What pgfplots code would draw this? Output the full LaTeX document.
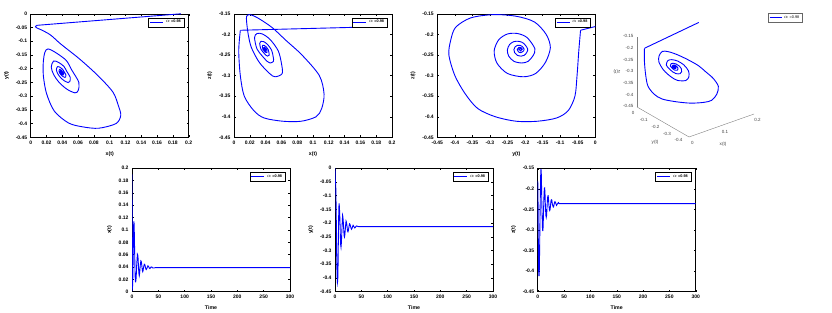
\documentclass[border=0pt]{standalone}
\usepackage{fontspec}
\setmainfont{Liberation Sans}
\usepackage{pgfplots}
\usepackage{pgfplotstable}
\pgfplotsset{compat=1.18}

\pgfplotstableread{
t x y z
0 0.190 0.000 -0.181
0.4 0.008 -0.042 -0.190
0.7 0.006 -0.047 -0.240
1.0 0.008 -0.052 -0.300
1.3 0.013 -0.058 -0.350
1.6 0.025 -0.077 -0.385
1.9 0.038 -0.110 -0.403
2.3 0.062 -0.165 -0.411
2.7 0.085 -0.225 -0.411
3.0 0.104 -0.285 -0.400
3.3 0.111 -0.335 -0.380
3.7 0.114 -0.370 -0.345
4.1 0.108 -0.400 -0.300
4.6 0.086 -0.417 -0.250
5.0 0.066 -0.412 -0.215
5.4 0.048 -0.398 -0.183
5.8 0.030 -0.355 -0.160
6.2 0.020 -0.290 -0.152
6.6 0.016 -0.225 -0.156
7.0 0.016 -0.173 -0.170
7.4 0.018 -0.140 -0.200
7.8 0.022 -0.128 -0.232
8.4 0.032 -0.142 -0.268
9.0 0.045 -0.170 -0.295
9.6 0.052 -0.205 -0.303
10.2 0.061 -0.250 -0.295
10.8 0.060 -0.280 -0.270
11.4 0.056 -0.288 -0.240
12.0 0.046 -0.275 -0.213
12.6 0.036 -0.250 -0.199
13.2 0.029 -0.221 -0.198
13.8 0.026 -0.194 -0.208
14.4 0.029 -0.172 -0.235
15.0 0.0355 -0.1775 -0.252
15.6 0.042 -0.1915 -0.2655
16.2 0.0455 -0.209 -0.2695
16.8 0.050 -0.2315 -0.2655
17.4 0.0495 -0.2465 -0.253
18.0 0.0475 -0.2505 -0.238
18.6 0.0425 -0.244 -0.2245
19.2 0.0375 -0.2315 -0.2175
19.8 0.034 -0.217 -0.217
20.4 0.0325 -0.2035 -0.222
21.0 0.034 -0.1925 -0.2355
21.6 0.0373 -0.1953 -0.2440
22.2 0.0405 -0.2023 -0.2508
22.8 0.0423 -0.2110 -0.2528
23.4 0.0445 -0.2223 -0.2508
24.0 0.0443 -0.2298 -0.2445
24.6 0.0433 -0.2318 -0.2370
25.2 0.0408 -0.2285 -0.2303
25.8 0.0383 -0.2223 -0.2268
26.4 0.0365 -0.2150 -0.2265
27.0 0.0358 -0.2083 -0.2290
27.6 0.0365 -0.2028 -0.2358
28.4 0.0381 -0.2041 -0.2400
29.6 0.0406 -0.2120 -0.2444
30.2 0.0418 -0.2176 -0.2434
31.4 0.0411 -0.2224 -0.2365
32.6 0.0386 -0.2176 -0.2314
33.8 0.0374 -0.2106 -0.2325
34.4 0.0378 -0.2079 -0.2359
35.8 0.0398 -0.2125 -0.2402
37.6 0.0401 -0.2177 -0.2363
39.4 0.0384 -0.2135 -0.2336
40.6 0.0384 -0.2104 -0.2359
45 0.0390 -0.2130 -0.2360
300 0.0390 -0.2130 -0.2360
}\traj

\pgfplotsset{
  mystyle/.style={
    scale only axis, width=158pt, height=123.5pt,
    axis line style={line width=0.5pt},
    tick align=inside, major tick length=2pt,
    every tick/.style={black, line width=0.4pt},
    tick label style={font=\fontsize{5}{6}\selectfont\bfseries},
    label style={font=\fontsize{5.2}{6}\selectfont\bfseries},
    scaled ticks=false,
    /pgf/number format/fixed, /pgf/number format/precision=2,
    /pgf/number format/assume math mode=true,
    legend style={at={(0.97,0.97)}, anchor=north east,
      font=\fontsize{3.8}{4.2}\selectfont\bfseries,
      inner xsep=1pt, inner ysep=0.6pt, draw=black, line width=0.35pt,
      cells={anchor=west}},
    legend image code/.code={\draw[#1, line width=0.9pt] (0pt,0pt) -- (13pt,0pt);},
  },
  traj/.style={blue, line width=0.9pt},
}
\newcommand{\xt}{0,0.02,0.04,0.06,0.08,0.1,0.12,0.14,0.16,0.18,0.2}
\newcommand{\yt}{-0.45,-0.4,-0.35,-0.3,-0.25,-0.2,-0.15,-0.1,-0.05,0}
\newcommand{\zt}{-0.45,-0.4,-0.35,-0.3,-0.25,-0.2,-0.15}

\begin{document}
\begin{tikzpicture}
\useasboundingbox (0pt,0pt) rectangle (832pt,313pt);

% ---- plot 1: x vs y
\begin{axis}[mystyle, at={(30.7pt,175.7pt)}, anchor=south west,
  xmin=0, xmax=0.2, ymin=-0.45, ymax=0, xtick=\xt, ytick=\yt,
  xlabel={x(t)}, ylabel={y(t)}]
\addplot[traj, forget plot] table[x=x, y=y, skip coords between index={2}{500}] {\traj};
\addplot[traj, smooth] table[x=x, y=y, skip coords between index={0}{1}] {\traj};
\addlegendentry{$\alpha$ =0.98}
\end{axis}

% ---- plot 2: x vs z
\begin{axis}[mystyle, at={(234pt,175.7pt)}, anchor=south west,
  xmin=0, xmax=0.2, ymin=-0.45, ymax=-0.15, xtick=\xt, ytick=\zt,
  xlabel={x(t)}, ylabel={z(t)}]
\addplot[traj, forget plot] table[x=x, y=z, skip coords between index={2}{500}] {\traj};
\addplot[traj, smooth] table[x=x, y=z, skip coords between index={0}{1}] {\traj};
\addlegendentry{$\alpha$ =0.98}
\end{axis}

% ---- plot 3: y vs z
\begin{axis}[mystyle, at={(437.3pt,175.7pt)}, anchor=south west,
  xmin=-0.45, xmax=0, ymin=-0.45, ymax=-0.15, xtick=\yt, ytick=\zt,
  xlabel={y(t)}, ylabel={z(t)}]
\addplot[traj, forget plot] table[x=y, y=z, skip coords between index={2}{500}] {\traj};
\addplot[traj, smooth] table[x=y, y=z, skip coords between index={0}{1}] {\traj};
\addlegendentry{$\alpha$ =0.98}
\end{axis}

% ---- plot 4: 3D
\begin{axis}[at={(637pt,176pt)}, anchor=south west,
  x={(325pt,115pt)}, y={(-115.6pt,66.7pt)}, z={(0pt,233pt)},
  xmin=0, xmax=0.2, ymin=-0.45, ymax=0, zmin=-0.45, zmax=-0.15,
  axis line style={draw=none}, tick style={draw=none},
  xtick={0,0.1,0.2}, ytick={-0.4,-0.3,-0.2,-0.1,0}, ztick=\zt,
  tick label style={font=\fontsize{4.5}{5}\selectfont, black!75},
  label style={font=\fontsize{4.6}{5}\selectfont, black!75},
  scaled ticks=false,
  /pgf/number format/fixed, /pgf/number format/precision=2,
  /pgf/number format/assume math mode=true,
  xlabel={x(t)}, ylabel={y(t)}, zlabel={z(t)},
  xlabel style={at={(axis cs:0.1046,-0.45,-0.5315)}, anchor=center, rotate=0},
  ylabel style={at={(axis cs:0,-0.156,-0.5556)}, anchor=center, rotate=0},
  zlabel style={at={(axis cs:0,0.173,-0.349)}, anchor=center, rotate=90},
  legend style={at={(1.41,1.009)}, anchor=north east,
      font=\fontsize{3.8}{4.2}\selectfont,
      inner xsep=0.6pt, inner ysep=0.6pt, draw=black!60, line width=0.35pt},
  legend image code/.code={\draw[#1, line width=0.9pt] (0pt,0pt) -- (12pt,0pt);},
  clip=false]
\draw[black!50, line width=0.4pt] (axis cs:0,-0.45,-0.45) -- (axis cs:0.2,-0.45,-0.45);
\draw[black!50, line width=0.4pt] (axis cs:0,-0.45,-0.45) -- (axis cs:0,0,-0.45);
\draw[black!50, line width=0.4pt] (axis cs:0,0,-0.45) -- (axis cs:0,0,-0.15);
\addplot3[traj, forget plot] table[x=x, y=y, z=z, skip coords between index={2}{500}] {\traj};
\addplot3[traj, smooth] table[x=x, y=y, z=z, skip coords between index={0}{1}] {\traj};
\addlegendentry{$\alpha$ =0.98}
\end{axis}

% ---- plot 5: x(t)
\begin{axis}[mystyle, at={(132pt,21.3pt)}, anchor=south west,
  xmin=0, xmax=300, ymin=0, ymax=0.2, xtick={0,50,100,150,200,250,300},
  ytick={0,0.02,0.04,0.06,0.08,0.1,0.12,0.14,0.16,0.18,0.2},
  xlabel={Time}, ylabel={x(t)}]
\addplot[traj] table[x=t, y=x] {\traj};
\addlegendentry{$\alpha$ =0.98}
\end{axis}

% ---- plot 6: y(t)
\begin{axis}[mystyle, at={(335pt,21.3pt)}, anchor=south west,
  xmin=0, xmax=300, ymin=-0.45, ymax=0, xtick={0,50,100,150,200,250,300},
  ytick=\yt, xlabel={Time}, ylabel={y(t)}]
\addplot[traj] table[x=t, y=y] {\traj};
\addlegendentry{$\alpha$ =0.98}
\end{axis}

% ---- plot 7: z(t)
\begin{axis}[mystyle, at={(537.7pt,21.3pt)}, anchor=south west,
  xmin=0, xmax=300, ymin=-0.45, ymax=-0.15, xtick={0,50,100,150,200,250,300},
  ytick=\zt, xlabel={Time}, ylabel={z(t)}]
\addplot[traj] table[x=t, y=z] {\traj};
\addlegendentry{$\alpha$ =0.98}
\end{axis}
\end{tikzpicture}
\end{document}
